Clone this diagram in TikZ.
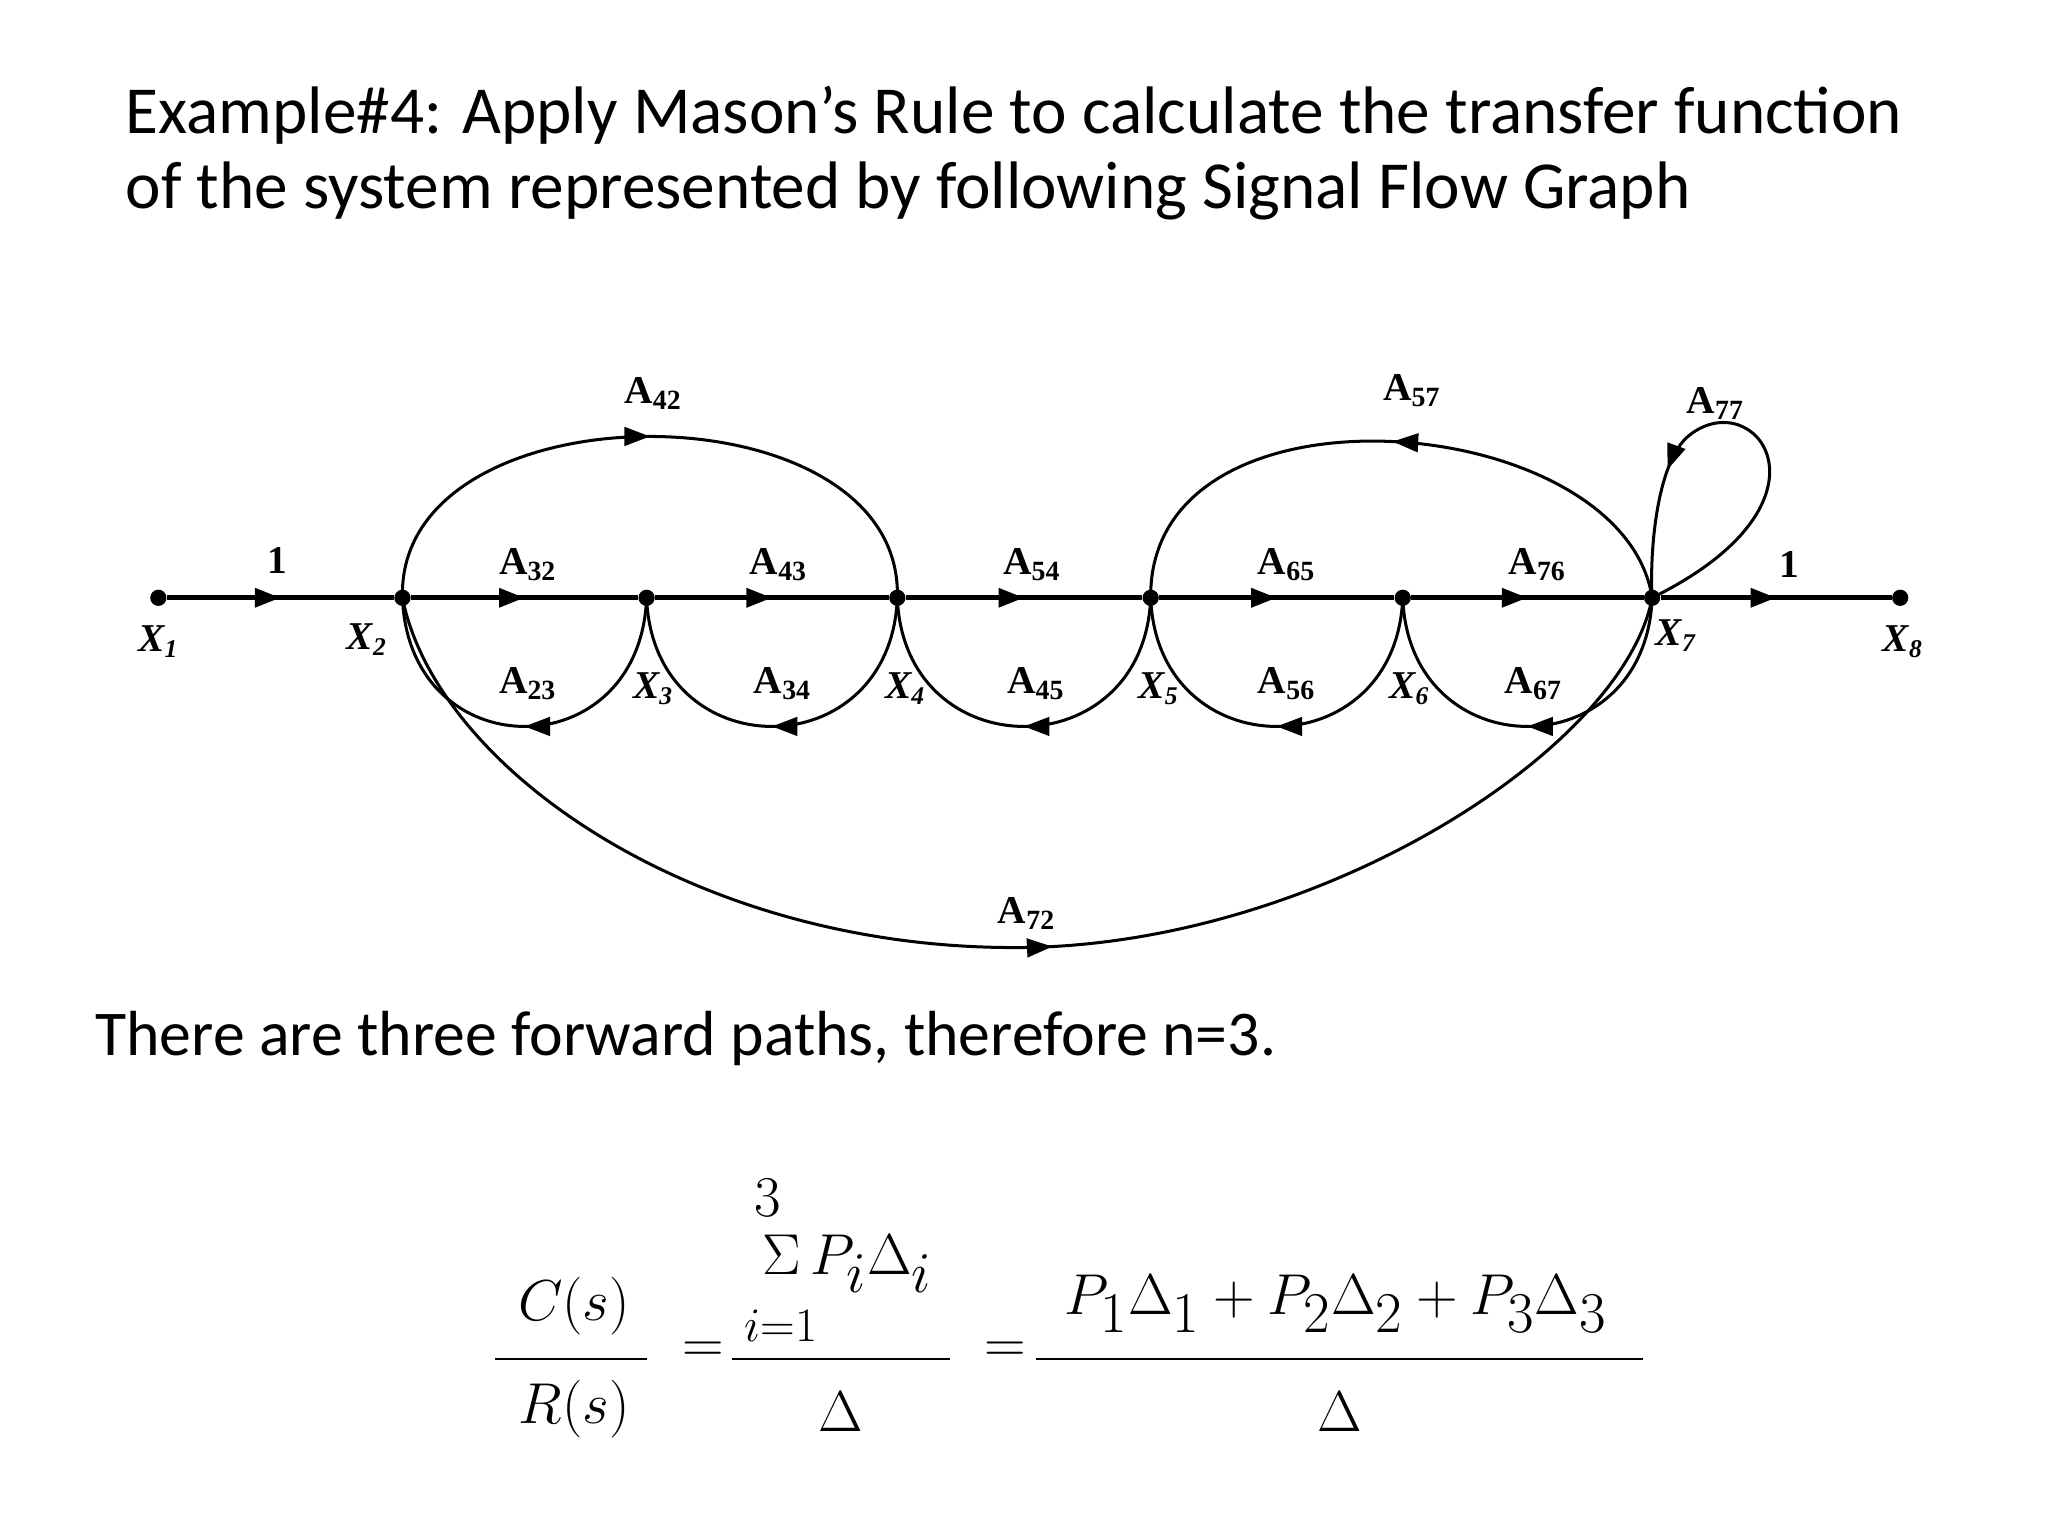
\documentclass[tikz,border=0pt]{standalone}
\usepackage{fontspec}
\setmainfont{Carlito}
\newfontfamily\serifA{Liberation Serif}
\usetikzlibrary{decorations.markings,arrows.meta,calc}
\tikzset{
 dot/.style={circle,fill,inner sep=0pt,minimum size=7pt},
 lab/.style={font=\serifA\fontsize{17}{17}\selectfont\bfseries},
 nl/.style={font=\serifA\fontsize{17}{17}\selectfont\bfseries\itshape},
 ed/.style={line width=1.3pt},
 midarr/.style={postaction={decorate},decoration={markings,mark=at position #1 with {\arrow{Triangle[length=11pt,width=8pt]}}}},
 midarr/.default=0.5,
 txt/.style={font=\fontsize{29}{34}\selectfont,anchor=base west,inner sep=0pt},
 eq/.style={font=\fontsize{34}{34}\selectfont,inner sep=0pt}
}
\newcommand{\Ag}[1]{A\textsubscript{\fontsize{12}{12}\selectfont #1}}
\begin{document}
\begin{tikzpicture}[x=0.02cm,y=-0.02cm]
\useasboundingbox (0,0) rectangle (1552,1164);
\node[txt] (t1) at (95,101) {Example\#4: Apply Mason’s Rule to calculate the transfer function};
\node[txt] (t2) at (95,158) {of the system represented by following Signal Flow Graph};
% nodes
\foreach \n/\x in {1/120,2/305,3/490,4/680,5/872,6/1063,7/1252,8/1440}
  \node[dot] (X\n) at (\x,453) {};
% main line
\foreach \a/\b in {1/2,2/3,3/4,4/5,5/6,6/7,7/8}
  \draw[line width=2pt,midarr] (X\a) -- (X\b);
% lower arcs (right to left)
\foreach \a/\b in {3/2,4/3,5/4,6/5,7/6}
  \draw[ed,midarr] (X\a.center) .. controls ($(X\a)+(-5,130)$) and ($(X\b)+(5,130)$) .. (X\b.center);
% A42
\draw[ed,midarr] (X2.center) .. controls (300,290) and (685,290) .. (X4.center);
% A57
\draw[ed,midarr] (X7.center) .. controls (1230,310) and (870,280) .. (X5.center);
% A77 self loop
\draw[ed,midarr=0.72] (X7.center) .. controls (1400,380) and (1330,290) .. (1280,330) .. controls (1255,350) and (1250,420) .. (X7.center);
% A72
\coordinate (b) at (760,718);
\draw[ed,midarr=0.52] (X2.center) .. controls (330,580) and (520,715) .. (b) .. controls (990,722) and (1230,570) .. (X7.center);
% labels
\node[lab] (l1) at (210,425) {1};
\node[lab] (l2) at (1356,428) {1};
\node[lab] (a32) at (400,428) {\Ag{32}};
\node[lab] (a43) at (590,428) {\Ag{43}};
\node[lab] (a54) at (782,428) {\Ag{54}};
\node[lab] (a65) at (975,428) {\Ag{65}};
\node[lab] (a76) at (1165,428) {\Ag{76}};
\node[lab] (a23) at (400,518) {\Ag{23}};
\node[lab] (a34) at (593,518) {\Ag{34}};
\node[lab] (a45) at (785,518) {\Ag{45}};
\node[lab] (a56) at (975,518) {\Ag{56}};
\node[lab] (a67) at (1162,518) {\Ag{67}};
\node[lab] (a42) at (495,298) {\Ag{42}};
\node[lab] (a57) at (1070,296) {\Ag{57}};
\node[lab] (a77) at (1300,306) {\Ag{77}};
\node[lab] (a72) at (778,692) {\Ag{72}};
\node[nl] at (120,486) {X\textsubscript{\fontsize{11}{11}\selectfont 1}};
\node[nl] at (278,485) {X\textsubscript{\fontsize{11}{11}\selectfont 2}};
\node[nl] at (495,522) {X\textsubscript{\fontsize{11}{11}\selectfont 3}};
\node[nl] at (686,522) {X\textsubscript{\fontsize{11}{11}\selectfont 4}};
\node[nl] at (878,522) {X\textsubscript{\fontsize{11}{11}\selectfont 5}};
\node[nl] at (1068,522) {X\textsubscript{\fontsize{11}{11}\selectfont 6}};
\node[nl] at (1270,482) {X\textsubscript{\fontsize{11}{11}\selectfont 7}};
\node[nl] at (1442,486) {X\textsubscript{\fontsize{11}{11}\selectfont 8}};
\node[txt,font=\fontsize{27.5}{34}\selectfont] (t3) at (72,800) {There are three forward paths, therefore n=3.};
% equation
\draw[line width=1pt] (375,1030) -- (490,1030);
\draw[line width=1pt] (555,1030) -- (720,1030);
\draw[line width=1pt] (785,1030) -- (1245,1030);
\node[eq] (c) at (435,990) {$C(s)$};
\node[eq] (r) at (435,1068) {$R(s)$};
\node[eq] (e1) at (533,1025) {$=$};
\node[eq] (e2) at (762,1025) {$=$};
\node[eq,font=\fontsize{26}{26}\selectfont] (three) at (582,908) {$3$};
\node[eq] (sum) at (642,958) {$\scriptstyle\Sigma\, \displaystyle P_i\Delta_i$};
\node[eq,font=\fontsize{22}{22}\selectfont] (i1) at (592,1005) {$i{=}1$};
\node[eq] (d1) at (637,1070) {$\Delta$};
\node[eq] (num) at (1012,988) {$P_1\Delta_1 + P_2\Delta_2 + P_3\Delta_3$};
\node[eq] (d2) at (1015,1070) {$\Delta$};
\end{tikzpicture}
\end{document}
